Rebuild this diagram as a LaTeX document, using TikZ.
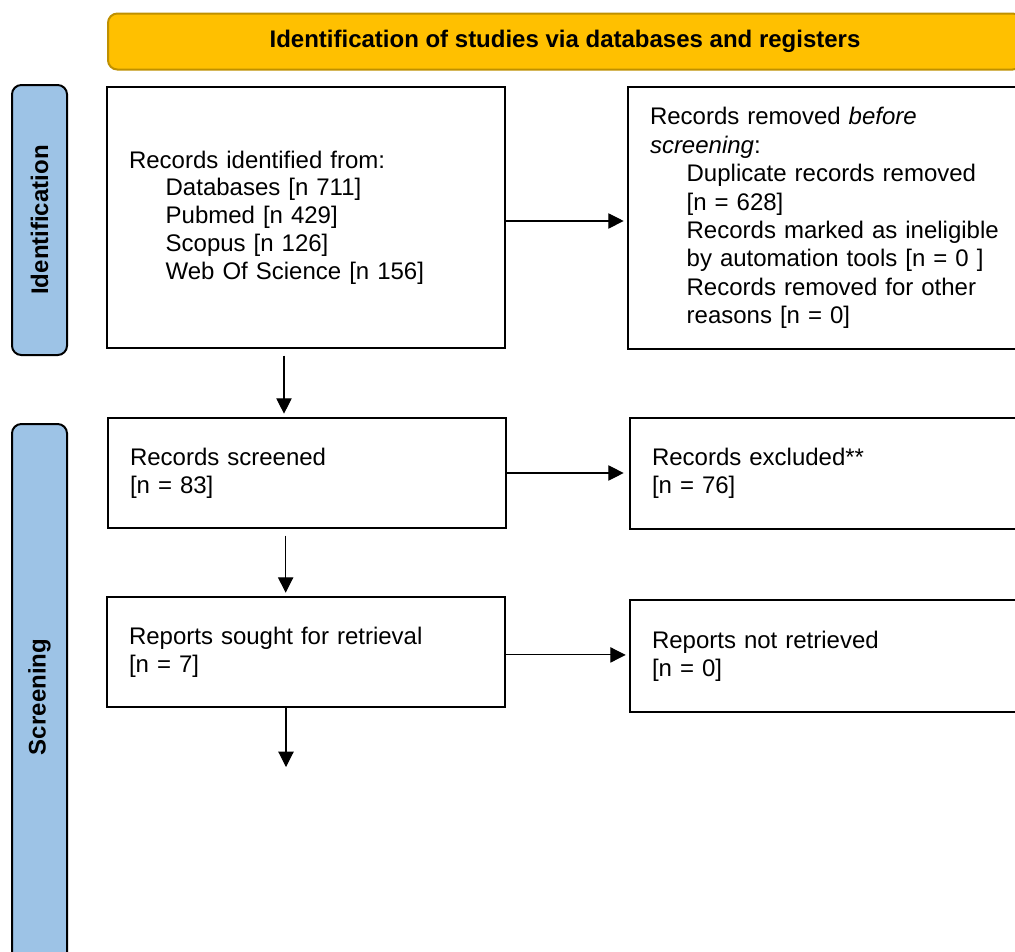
\documentclass[tikz,border=0pt]{standalone}
\usepackage{fontspec}
\setmainfont{Liberation Sans}
\usetikzlibrary{arrows.meta}
\definecolor{hdrfill}{HTML}{FFC000}
\definecolor{hdrline}{HTML}{BF9000}
\definecolor{sidefill}{HTML}{9DC3E6}
\newcommand{\myind}{\hspace*{27.5pt}}
\begin{document}
\begin{tikzpicture}[x=0.75pt,y=-0.75pt,
  box/.style={draw=black, line width=1.5pt, fill=white, align=left,
    text width=265.5pt, inner xsep=16.5pt, inner ysep=0pt,
    font=\fontsize{18pt}{20.8pt}\selectfont},
  hdr/.style={draw=hdrline, fill=hdrfill, line width=1.5pt, rounded corners=7pt,
    minimum width=685.5pt, minimum height=42pt,
    font=\fontsize{18pt}{20.8pt}\selectfont\bfseries},
  side/.style={draw=black, fill=sidefill, line width=1.5pt, rounded corners=7pt,
    rotate=90, minimum height=41.25pt,
    font=\fontsize{18pt}{20.8pt}\selectfont\bfseries},
  arr/.style={-{Triangle[length=11.5pt,width=11.5pt]}, line width=0.8pt}]
\useasboundingbox (0,0) rectangle (1015,951);
\clip (0,0) rectangle (1015,951);

\node[hdr] (hdr) at (565,41.5) {\raisebox{-1pt}{Identification of studies via databases and registers}};

\node[side, minimum width=202.5pt] (sid) at (39.5,220) {Identification};
\node[side, minimum width=409.5pt] (sscr) at (39.5,697) {Screening};

\node[box, minimum height=195.75pt] (b1) at (306,217.5) {Records identified from:\\
\myind Databases [n 711]\\
\myind Pubmed [n 429]\\
\myind Scopus [n 126]\\
\myind Web Of Science [n 156]};

\node[box, minimum height=196.5pt, font=\fontsize{18pt}{21.3pt}\selectfont] (b2) at (827,218) {Records removed \textit{before}\\
\textit{screening}:\\
\myind Duplicate records removed\\
\myind [n = 628]\\
\myind Records marked as ineligible\\
\myind by automation tools [n = 0 ]\\
\myind Records removed for other\\
\myind reasons [n = 0]};

\node[box, minimum height=82.5pt] (b3) at (307,473) {Records screened\\\relax [n = 83]};
\node[box, minimum height=83.25pt] (b4) at (829,473.5) {Records excluded**\\\relax [n = 76]};
\node[box, minimum height=82.5pt] (b5) at (306,652) {Reports sought for retrieval\\\relax [n = 7]};
\node[box, minimum height=84pt] (b6) at (829,656) {Reports not retrieved\\\relax [n = 0]};

\coordinate (e5) at (286,767);

\draw[arr, shorten >=2.5pt] ([yshift=-2.6pt]b1.east) -- ([yshift=-2.6pt]b1.east -| b2.west);
\draw[arr, shorten >=4pt] (b3.east) -- (b3.east -| b4.west);
\draw[arr, shorten >=2.5pt] ([yshift=-2.2pt]b5.east) -- ([yshift=-2.2pt]b5.east -| b6.west);

\draw[arr, shorten <=5pt, shorten >=2.5pt] ([xshift=-16.5pt]b1.south) -- ([xshift=-16.5pt]b1.south |- b3.north);
\draw[arr, shorten <=5pt, shorten >=2.5pt] ([xshift=-16pt]b3.south) -- ([xshift=-16pt]b3.south |- b5.north);
\draw[arr] (b5.south -| e5) -- (e5);
\end{tikzpicture}
\end{document}
